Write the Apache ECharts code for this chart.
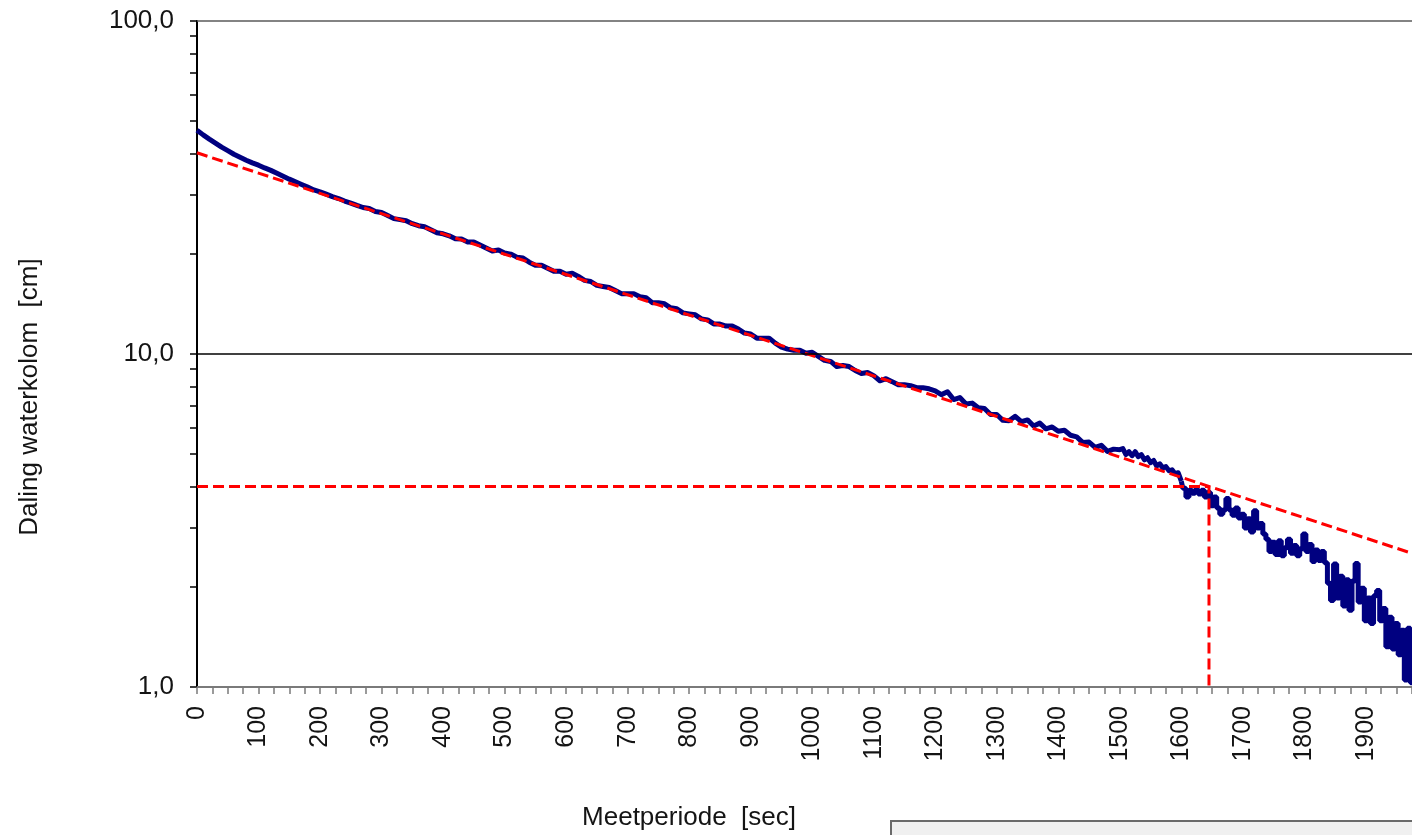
<!DOCTYPE html>
<html>
<head>
<meta charset="utf-8">
<script src="https://cdn.jsdelivr.net/npm/echarts@6/dist/echarts.min.js"></script>
<style>
  html, body { margin: 0; padding: 0; background: #ffffff; }
  #chart { width: 1412px; height: 835px; }
</style>
</head>
<body>
<div id="chart"></div>
<script>
const FONT = '"Liberation Sans", Arial, sans-serif';

// Drop of the water column [cm], one reading every 10 s from 0 to 1500 s
const LEVEL_A_STEP = 10;
const levelA = [
  47.0, 45.5, 44.2, 43.0, 41.8, 40.8, 39.8, 39.0, 38.2, 37.5,
  36.9, 36.2, 35.6, 34.9, 34.2, 33.5, 32.9, 32.3, 31.7, 31.1,
  30.7, 30.2, 29.7, 29.3, 28.8, 28.4, 27.95, 27.54, 27.35, 26.78,
  26.59, 26.04, 25.50, 25.32, 25.14, 24.62, 24.28, 24.11, 23.61, 23.12,
  22.96, 22.64, 22.17, 22.16, 21.71, 21.71, 21.26, 20.81, 20.38, 20.52,
  20.10, 19.95, 19.54, 19.41, 18.87, 18.48, 18.48, 18.09, 17.72, 17.71,
  17.35, 17.47, 17.10, 16.64, 16.51, 16.07, 15.95, 15.84, 15.51, 15.18,
  15.18, 15.18, 14.86, 14.76, 14.26, 14.26, 14.15, 13.76, 13.67, 13.29,
  13.20, 13.11, 12.75, 12.66, 12.31, 12.30, 12.13, 12.13, 11.88, 11.56,
  11.48, 11.16, 11.16, 11.16, 10.78, 10.48, 10.34, 10.26, 10.26, 10.05,
  10.12, 9.84, 9.57, 9.50, 9.17, 9.24, 9.17, 8.92, 8.74, 8.80,
  8.61, 8.31, 8.43, 8.26, 8.08, 8.09, 8.03, 7.92, 7.92, 7.86,
  7.75, 7.55, 7.70, 7.30, 7.40, 7.08, 7.12, 6.90, 6.86, 6.58,
  6.58, 6.32, 6.30, 6.50, 6.26, 6.34, 6.08, 6.20, 5.96, 6.04,
  5.86, 5.90, 5.70, 5.64, 5.42, 5.44, 5.24, 5.32, 5.10, 5.18,
  5.16
];

// Noisier end of the record, one reading every 5 s from 1505 s
const LEVEL_B_START = 1505;
const LEVEL_B_STEP = 5;
const levelB = [
  5.20, 4.99, 5.09, 4.95, 5.09, 4.92, 4.99, 4.81, 4.88, 4.72,
  4.79, 4.61, 4.68, 4.55, 4.59, 4.46, 4.49, 4.37, 4.40, 4.15,
  3.95, 3.72, 3.90, 3.82, 3.92, 3.80, 3.90, 3.72, 3.84, 3.50,
  3.72, 3.45, 3.30, 3.40, 3.68, 3.40, 3.28, 3.45, 3.22, 3.30,
  3.00, 3.20, 2.92, 3.38, 3.00, 3.10, 2.88, 2.78, 2.55, 2.72,
  2.50, 2.75, 2.48, 2.62, 2.78, 2.52, 2.66, 2.48, 2.60, 2.88,
  2.55, 2.68, 2.38, 2.58, 2.40, 2.55, 2.36, 2.05, 1.82, 2.34,
  1.85, 2.15, 1.75, 2.10, 1.70, 2.08, 2.35, 1.80, 1.98, 1.58,
  1.85, 1.55, 1.88, 1.95, 1.58, 1.72, 1.32, 1.62, 1.30, 1.55,
  1.25, 1.48, 1.05, 1.50, 1.03
];

// Straight-line fit on the log scale
const fitTime = [0, 1975];
const fitLevel = [40.2, 2.52];

// Reading point marked on the fit
const markTime = 1645;
const markLevel = 4.0;

// From this time on the sensor readings jump between steps
const STEPPED_FROM = 1600;

// Axes
const X_MIN = 0, X_MAX = 1975, X_TICK_STEP = 25;
const xTickLabels = [0, 100, 200, 300, 400, 500, 600, 700, 800, 900,
  1000, 1100, 1200, 1300, 1400, 1500, 1600, 1700, 1800, 1900];
const yTickLabels = [1, 10, 100];
const yMinorSteps = [1, 2, 3, 4, 5, 6, 7, 8, 9];

const measured = [];
levelA.forEach((v, i) => measured.push([i * LEVEL_A_STEP, v]));
levelB.forEach((v, i) => measured.push([LEVEL_B_START + i * LEVEL_B_STEP, v]));
const measuredSmooth = measured.filter(p => p[0] <= STEPPED_FROM);
const measuredStepped = measured.filter(p => p[0] >= STEPPED_FROM);

const fitData = fitTime.map((t, i) => [t, fitLevel[i]]);
const markData = [[X_MIN, markLevel], [markTime, markLevel], [markTime, yTickLabels[0]]];

const xTicks = [];
for (let t = X_MIN; t <= X_MAX; t += X_TICK_STEP) xTicks.push(t);

// minor ticks of the log axis, placed on a companion axis in log10 units
const yMinorTicks = [];
[1, 10].forEach(d => yMinorSteps.forEach(m => yMinorTicks.push(Math.log10(m * d))));
yMinorTicks.push(2);

const textColor = '#141414';
const navy = '#000080';
const redDash = { color: '#ff0000', width: 3, type: [11, 5] };

const chart = echarts.init(document.getElementById('chart'), null, { renderer: 'canvas' });

chart.setOption({
  animation: false,
  backgroundColor: '#ffffff',
  grid: { left: 197, top: 21, right: 0, bottom: 148, containLabel: false },
  xAxis: {
    type: 'value',
    min: X_MIN,
    max: X_MAX,
    axisLine: { show: true, onZero: false, lineStyle: { color: '#7a7a7a', width: 2 } },
    axisTick: { show: true, length: 7, customValues: xTicks, lineStyle: { color: '#7a7a7a', width: 1.5 } },
    axisLabel: {
      customValues: xTickLabels,
      rotate: 90,
      margin: 19,
      fontSize: 25,
      fontFamily: FONT,
      color: textColor,
      formatter: v => String(v)
    },
    splitLine: { show: false }
  },
  yAxis: [
    {
      type: 'log',
      logBase: 10,
      min: 1,
      max: 100,
      axisLine: { show: true, lineStyle: { color: '#000000', width: 2 } },
      axisTick: { show: false },
      axisLabel: {
        margin: 23,
        fontSize: 26,
        fontFamily: FONT,
        color: textColor,
        formatter: v => Number(v).toFixed(1).replace('.', ',')
      },
      splitLine: { show: false }
    },
    {
      type: 'value',
      min: 0,
      max: 2,
      position: 'left',
      axisLine: { show: false },
      axisTick: { show: true, length: 7, customValues: yMinorTicks, lineStyle: { color: '#000000', width: 1.5 } },
      axisLabel: { show: false },
      splitLine: { show: false }
    }
  ],
  series: [
    {
      name: 'raster',
      type: 'line',
      data: [],
      z: 1,
      silent: true,
      markLine: {
        silent: true,
        symbol: ['none', 'none'],
        label: { show: false },
        data: [
          { yAxis: yTickLabels[1], lineStyle: { color: '#000000', width: 1.5, type: 'solid' } },
          { yAxis: yTickLabels[2], lineStyle: { color: '#5a5a5a', width: 1.5, type: 'solid' } }
        ]
      }
    },
    {
      name: 'Daling waterkolom',
      type: 'line',
      data: measuredSmooth,
      showSymbol: false,
      z: 2,
      lineStyle: { color: navy, width: 5, join: 'round' }
    },
    {
      name: 'Daling waterkolom (vervolg)',
      type: 'line',
      data: measuredStepped,
      step: 'middle',
      showSymbol: false,
      z: 2,
      lineStyle: { color: navy, width: 5, join: 'bevel' }
    },
    {
      name: 'Fit',
      type: 'line',
      data: fitData,
      showSymbol: false,
      z: 3,
      lineStyle: redDash
    },
    {
      name: 'Aflezing',
      type: 'line',
      data: markData,
      showSymbol: false,
      z: 3,
      lineStyle: redDash
    }
  ],
  graphic: [
    {
      type: 'text',
      x: 689, y: 818,
      style: {
        text: 'Meetperiode  [sec]', fontSize: 26, fontFamily: FONT, fill: textColor,
        align: 'center', verticalAlign: 'middle'
      }
    },
    {
      type: 'text',
      x: 30, y: 397,
      rotation: Math.PI / 2,
      style: {
        text: 'Daling waterkolom  [cm]', fontSize: 26, fontFamily: FONT, fill: textColor,
        align: 'center', verticalAlign: 'middle'
      }
    },
    {
      type: 'rect',
      shape: { x: 891, y: 821, width: 540, height: 40 },
      style: { fill: '#f0f0f0', stroke: '#6a6a6a', lineWidth: 2 }
    }
  ]
});
</script>
</body>
</html>
